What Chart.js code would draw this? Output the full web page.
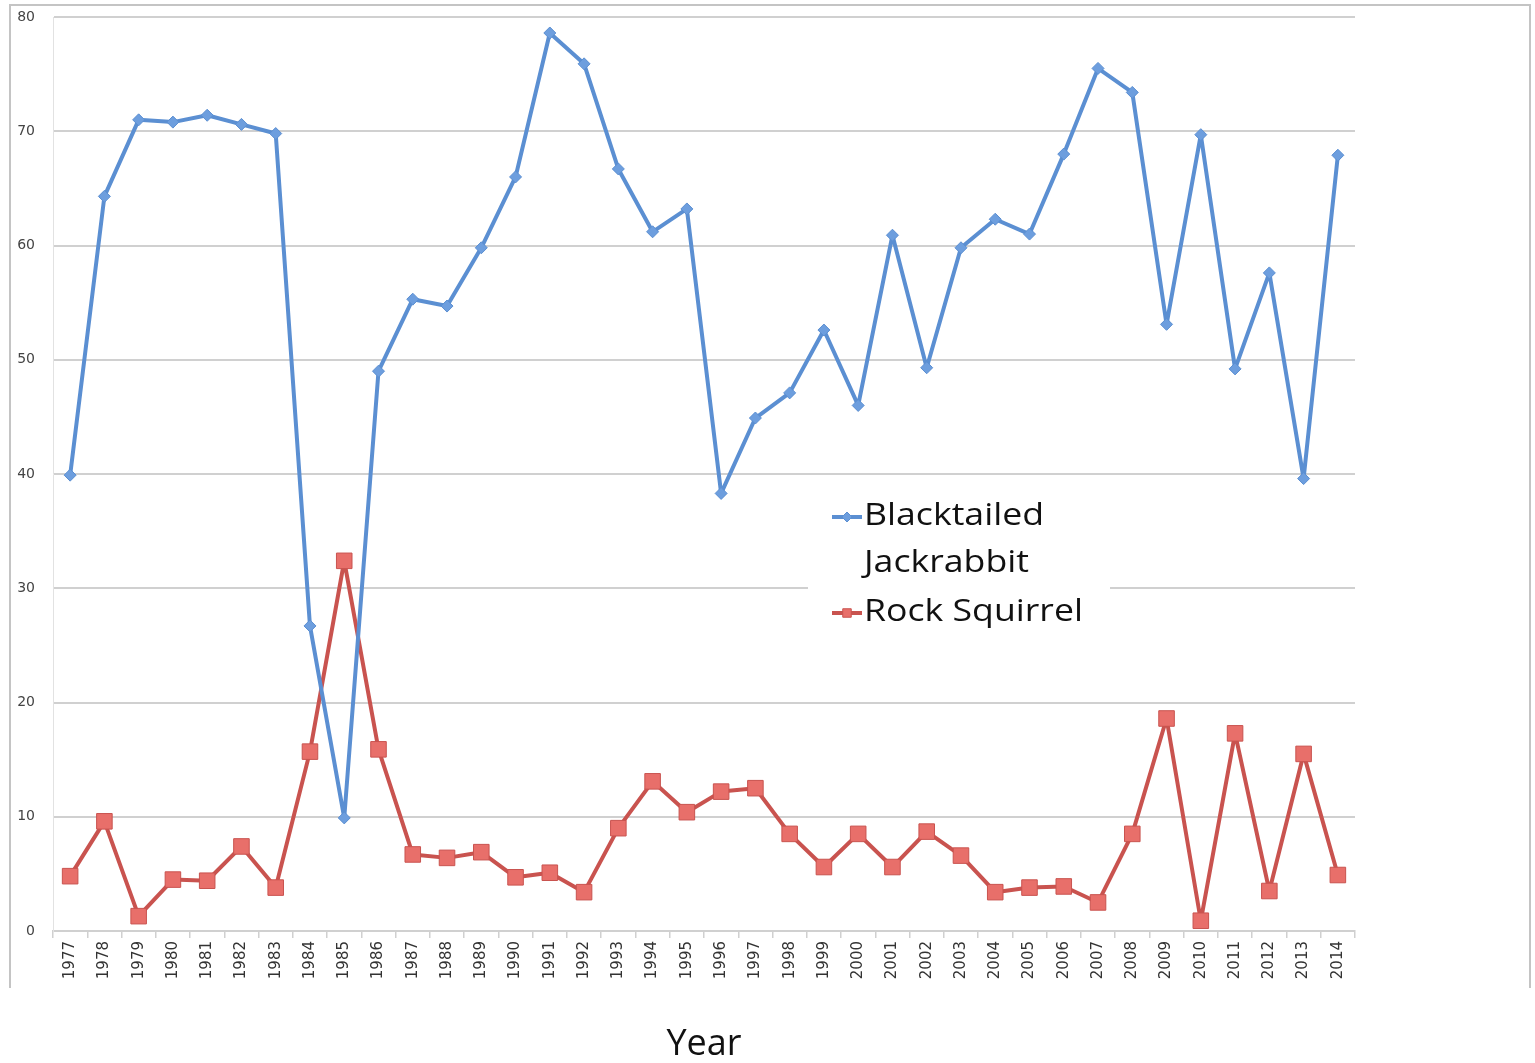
<!DOCTYPE html>
<html>
<head>
<meta charset="utf-8">
<title>Blacktailed Jackrabbit and Rock Squirrel</title>
<script src="https://cdn.jsdelivr.net/npm/chart.js@4.4.1/dist/chart.umd.min.js"></script>
<style>
  html, body { margin: 0; padding: 0; background: #fff; }
  #wrap { width: 1535px; height: 1063px; }
</style>
</head>
<body>
<div id="wrap"><canvas id="countChart" width="1535" height="1063"></canvas></div>
<script>
// ==== DONNÉES ====
const years = [
  '1977', '1978', '1979', '1980', '1981', '1982', '1983', '1984', '1985', '1986',
  '1987', '1988', '1989', '1990', '1991', '1992', '1993', '1994', '1995', '1996',
  '1997', '1998', '1999', '2000', '2001', '2002', '2003', '2004', '2005', '2006',
  '2007', '2008', '2009', '2010', '2011', '2012', '2013', '2014'
];

const jackrabbit = [
  39.9, 64.3, 71.0, 70.8, 71.4, 70.6, 69.8, 26.7, 9.9, 49.0,
  55.3, 54.7, 59.8, 66.0, 78.6, 75.9, 66.7, 61.2, 63.2, 38.3,
  44.9, 47.1, 52.6, 46.0, 60.9, 49.3, 59.8, 62.3, 61.0, 68.0,
  75.5, 73.4, 53.1, 69.7, 49.2, 57.6, 39.6, 67.9
];

const rockSquirrel = [
  4.8, 9.6, 1.3, 4.5, 4.4, 7.4, 3.8, 15.7, 32.4, 15.9,
  6.7, 6.4, 6.9, 4.7, 5.1, 3.4, 9.0, 13.1, 10.4, 12.2,
  12.5, 8.5, 5.6, 8.5, 5.6, 8.7, 6.6, 3.4, 3.8, 3.9,
  2.5, 8.5, 18.6, 0.9, 17.3, 3.5, 15.5, 4.9
];

const seriesLabels = [['Blacktailed', 'Jackrabbit'], ['Rock Squirrel']];
const yRange = [0, 80];
const yStep = 10;
const xTitle = 'Year';

// ==== STYLES ====
const BLUE = '#5b8fd2';
const BLUE_MARK = '#6d9ede';
const RED = '#c9534f';
const RED_MARK = '#e86f6a';
const GRID = '#d0d0d0';
const BODY_FONT = '"Open Sans", Lato, sans-serif';
const TICK_FONT = '"DejaVu Sans", Verdana, sans-serif';

// Cadre gris autour du graphique
const framePlugin = {
  id: 'frame',
  beforeDraw(chart) {
    const ctx = chart.ctx;
    ctx.save();
    ctx.fillStyle = '#fff';
    ctx.fillRect(0, 0, chart.width, chart.height);
    ctx.strokeStyle = '#c4c4c4';
    ctx.lineWidth = 2;
    ctx.beginPath();
    ctx.moveTo(10, 988);
    ctx.lineTo(10, 5);
    ctx.lineTo(1530, 5);
    ctx.lineTo(1530, 988);
    ctx.stroke();
    ctx.restore();
  }
};

// Légende maison (libellé sur deux lignes, texte un peu élargi)
const boxLegendPlugin = {
  id: 'boxLegend',
  afterDraw(chart) {
    const ctx = chart.ctx;
    const x0 = 808, y0 = 492, w = 302, h = 148;
    const lineH = 47;
    const textX = 864;
    const stretch = 1.15;
    ctx.save();
    ctx.fillStyle = '#fff';
    ctx.fillRect(x0, y0, w, h);

    let y = 517;
    chart.data.datasets.forEach((ds, i) => {
      const sx = 832, ex = 862, cy = y;
      ctx.strokeStyle = ds.borderColor;
      ctx.lineWidth = 4;
      ctx.beginPath();
      ctx.moveTo(sx, cy);
      ctx.lineTo(ex, cy);
      ctx.stroke();
      ctx.fillStyle = ds.pointBackgroundColor;
      ctx.strokeStyle = ds.pointBorderColor;
      ctx.lineWidth = 1;
      Chart.helpers.drawPoint(ctx, {
        pointStyle: ds.pointStyle,
        radius: i === 0 ? 5 : 6,
        borderWidth: 1
      }, (sx + ex) / 2, cy);

      ctx.save();
      ctx.translate(textX, 0);
      ctx.scale(stretch, 1);
      ctx.fillStyle = '#111';
      ctx.font = '31px ' + BODY_FONT;
      ctx.textBaseline = 'middle';
      ctx.textAlign = 'left';
      seriesLabels[i].forEach((txt, k) => {
        ctx.fillText(txt, 0, cy + k * lineH - 1);
      });
      ctx.restore();
      y += seriesLabels[i].length * lineH + 2;
    });
    ctx.restore();
  }
};

const ctx = document.getElementById('countChart');

new Chart(ctx, {
  type: 'line',
  data: {
    labels: years,
    datasets: [
      {
        label: seriesLabels[0].join(' '),
        data: jackrabbit,
        borderColor: BLUE,
        borderWidth: 4,
        borderJoinStyle: 'round',
        pointStyle: 'rectRot',
        pointRadius: 6,
        pointBorderWidth: 1,
        pointBackgroundColor: BLUE_MARK,
        pointBorderColor: BLUE,
        tension: 0
      },
      {
        label: seriesLabels[1].join(' '),
        data: rockSquirrel,
        borderColor: RED,
        borderWidth: 4,
        borderJoinStyle: 'round',
        pointStyle: 'rect',
        pointRadius: 11,
        pointBorderWidth: 1,
        pointBackgroundColor: RED_MARK,
        pointBorderColor: RED,
        tension: 0
      }
    ]
  },
  options: {
    responsive: false,
    animation: false,
    layout: {
      padding: { left: 10, top: 17, right: 180, bottom: 0 }
    },
    plugins: {
      legend: { display: false },
      tooltip: { enabled: false }
    },
    scales: {
      x: {
        offset: true,
        afterFit(scale) { scale.height = 132; },
        grid: {
          offset: true,
          drawOnChartArea: false,
          drawTicks: true,
          tickLength: 7,
          color: GRID,
          lineWidth: 1.5
        },
        border: { color: GRID, width: 2 },
        ticks: {
          minRotation: 90,
          maxRotation: 90,
          autoSkip: false,
          padding: 3,
          color: '#333',
          font: { family: TICK_FONT, size: 15 }
        },
        title: {
          display: true,
          text: xTitle,
          color: '#111',
          padding: 0,
          font: { family: BODY_FONT, size: 36, lineHeight: 1.0 }
        }
      },
      y: {
        min: yRange[0],
        max: yRange[1],
        afterFit(scale) {
          scale.width = 43;
          // les libellés peuvent déborder, la zone de tracé reste fixe
          scale.paddingTop = 0;
          scale.paddingBottom = 0;
        },
        grid: {
          color: GRID,
          lineWidth: 2,
          drawTicks: false
        },
        border: { display: true, color: '#e2e2e2', width: 1 },
        ticks: {
          stepSize: yStep,
          padding: 18,
          color: '#444',
          font: { family: TICK_FONT, size: 14 }
        }
      }
    }
  },
  plugins: [framePlugin, boxLegendPlugin]
});
</script>
</body>
</html>
